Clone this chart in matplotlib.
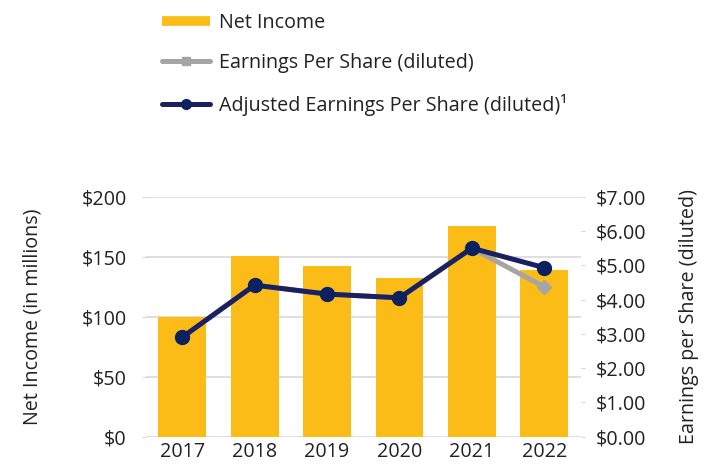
import matplotlib
matplotlib.use("Agg")
import matplotlib.pyplot as plt
from matplotlib.lines import Line2D

plt.rcParams['font.family'] = ['Open Sans', 'DejaVu Sans']

years = ["2017", "2018", "2019", "2020", "2021", "2022"]
net_income = [100, 151, 142, 132, 176, 139]
eps_diluted = [2.90, 4.42, 4.16, 4.05, 5.50, 4.37]
adj_eps_diluted = [2.90, 4.42, 4.16, 4.05, 5.50, 4.93]
left_ticks = [0, 50, 100, 150, 200]
left_labels = ["$0", "$50", "$100", "$150", "$200"]
right_ticks = [0, 1, 2, 3, 4, 5, 6, 7]
right_labels = ["$0.00", "$1.00", "$2.00", "$3.00", "$4.00", "$5.00", "$6.00", "$7.00"]

BAR = "#FBBC18"
GRAY = "#A5A5A5"
NAVY = "#1A2060"
MARK = "#0B2160"
GRID = "#D9D9D9"
TXT = "#222222"
FS = 14.2

fig = plt.figure(figsize=(7.07, 4.66), dpi=100)
L, R, T, B = 146, 580.5, 196.7, 436.7
ax = fig.add_axes([L/707, 1-B/466, (R-L)/707, (B-T)/466])
ax2 = ax.twinx()

x = list(range(len(years)))
ax.bar(x, net_income, width=0.66, color=BAR, zorder=2)
ax.set_xlim(-0.5, len(years)-0.5)
ax.set_ylim(0, 200)
ax.set_yticks(left_ticks)
ax.set_yticklabels(left_labels)
ax.set_xticks(x)
ax.set_xticklabels(years)
ax.yaxis.grid(True, color=GRID, linewidth=1.2, zorder=0)
ax.set_axisbelow(True)
for s in ax.spines.values():
    s.set_visible(False)
for s in ax2.spines.values():
    s.set_visible(False)
ax.tick_params(axis='y', length=3, color=GRID, labelsize=FS, labelcolor=TXT, pad=11)
ax.tick_params(axis='x', length=0, labelsize=FS, labelcolor=TXT, pad=4)
ax.set_ylabel("Net Income (in millions)", fontsize=FS, color=TXT)
ax.yaxis.set_label_coords((43-L)/(R-L), 0.5)

ax2.set_ylim(0, 7)
ax2.set_yticks(right_ticks)
ax2.set_yticklabels(right_labels)
ax2.tick_params(axis='y', length=3, color=GRID, labelsize=FS, labelcolor=TXT, pad=8)
ax2.set_ylabel("Earnings per Share (diluted)", fontsize=FS, color=TXT)
ax2.yaxis.set_label_coords((679-L)/(R-L), 0.5)

ax2.plot(x, eps_diluted, color=GRAY, lw=3.6, marker='D', markersize=7,
         markerfacecolor=GRAY, markeredgecolor=GRAY, zorder=3, solid_capstyle='round')
ax2.plot(x, adj_eps_diluted, color=NAVY, lw=3.6, marker='o', markersize=10,
         markerfacecolor=MARK, markeredgecolor=MARK, zorder=4, solid_capstyle='round')

handles = [
    Line2D([], [], color=BAR, lw=7, solid_capstyle='butt'),
    Line2D([], [], color=GRAY, lw=3.6, marker='s', markersize=6, markerfacecolor=GRAY, markeredgecolor=GRAY, solid_capstyle='round'),
    Line2D([], [], color=NAVY, lw=3.6, marker='o', markersize=7, markerfacecolor=MARK, markeredgecolor=MARK, solid_capstyle='round'),
]
labels = ["Net Income", "Earnings Per Share (diluted)", "Adjusted Earnings Per Share (diluted)\u00b9"]
fpx = FS * 100 / 72
fig.legend(handles, labels, loc='upper left', bbox_to_anchor=(162/707, 1-13/466),
           frameon=False, fontsize=FS, handlelength=48/fpx, handletextpad=9/fpx,
           labelspacing=1.03, borderaxespad=0, borderpad=0, labelcolor=TXT)

fig.savefig("out.png", dpi=100)
